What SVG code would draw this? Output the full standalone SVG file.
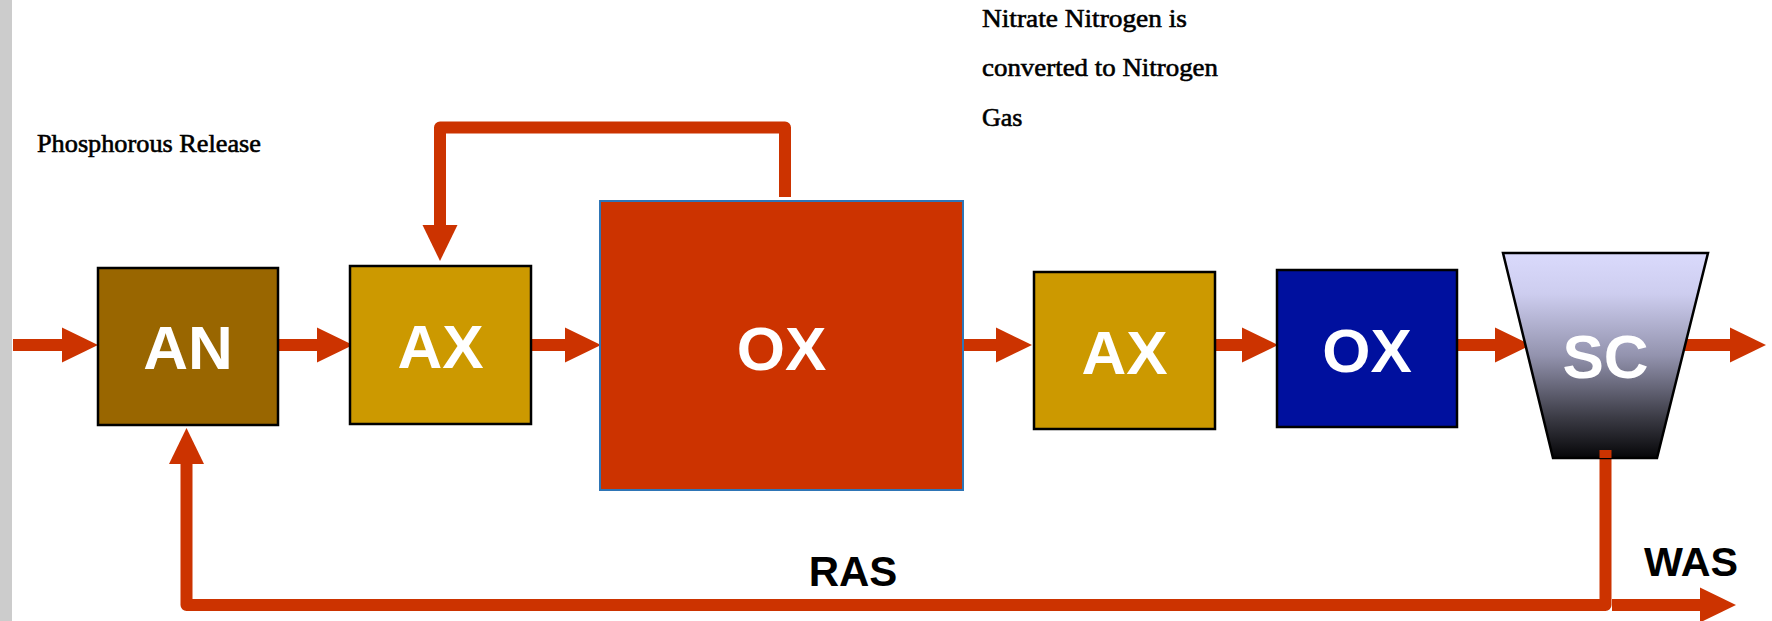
<svg xmlns="http://www.w3.org/2000/svg" width="1772" height="621" viewBox="0 0 1772 621">
<style>
.box{stroke:#000;stroke-width:2.5}
.lbl{font-family:"Liberation Sans",Arial,sans-serif;font-weight:bold;font-size:62px;fill:#fff;text-anchor:middle}
.note{font-family:"Liberation Serif","Times New Roman",serif;font-size:26px;fill:#000;stroke:#000;stroke-width:0.6}
.flow{fill:none;stroke:#cc3300;stroke-width:12;stroke-linejoin:round}
.tag{font-family:"Liberation Sans",Arial,sans-serif;font-weight:bold;fill:#000}
</style>
<defs>
<marker id="ah" markerUnits="userSpaceOnUse" markerWidth="36" markerHeight="36" refX="0" refY="17.5" orient="auto" viewBox="0 0 36 35">
<path d="M0,0 L36,17.5 L0,35 Z" fill="#cc3300"/>
</marker>
<linearGradient id="scg" x1="0" y1="0" x2="0" y2="1">
<stop offset="0" stop-color="#dadafc"/>
<stop offset="0.2" stop-color="#cdcdef"/>
<stop offset="0.5" stop-color="#9393ae"/>
<stop offset="0.8" stop-color="#3c3c46"/>
<stop offset="1" stop-color="#060608"/>
</linearGradient>
</defs>
<rect x="0" y="0" width="12" height="621" fill="#cccccc"/>
<text class="note" x="37" y="152" textLength="224" lengthAdjust="spacingAndGlyphs">Phosphorous Release</text>
<g class="note">
<text x="982" y="27" textLength="205" lengthAdjust="spacingAndGlyphs">Nitrate Nitrogen is</text>
<text x="982" y="76" textLength="236" lengthAdjust="spacingAndGlyphs">converted to Nitrogen</text>
<text x="982" y="126">Gas</text>
</g>
<g id="connectors">
<line class="flow" x1="13" y1="345" x2="62" y2="345" marker-end="url(#ah)"/>
<line class="flow" x1="277" y1="345" x2="317" y2="345" marker-end="url(#ah)"/>
<line class="flow" x1="531" y1="345" x2="565" y2="345" marker-end="url(#ah)"/>
<line class="flow" x1="963" y1="345" x2="996" y2="345" marker-end="url(#ah)"/>
<line class="flow" x1="1215" y1="345" x2="1242" y2="345" marker-end="url(#ah)"/>
<line class="flow" x1="1457" y1="345" x2="1495" y2="345" marker-end="url(#ah)"/>
<line class="flow" x1="1685" y1="345" x2="1730" y2="345" marker-end="url(#ah)"/>
<path class="flow" d="M785,197 V127.5 H440 V225" marker-end="url(#ah)"/>
<path class="flow" d="M1605.5,450 V605 H186.5 V464" marker-end="url(#ah)"/>
<line class="flow" x1="1612" y1="605" x2="1700" y2="605" marker-end="url(#ah)"/>
</g>
<g id="AN"><rect class="box" x="98" y="268" width="180" height="157" fill="#996600"/><text class="lbl" x="188" y="369">AN</text></g>
<g id="AX1"><rect class="box" x="350" y="266" width="181" height="158" fill="#cc9900"/><text class="lbl" x="440.5" y="368">AX</text></g>
<g id="OX1"><rect x="600" y="201" width="363" height="289" fill="#cc3300" stroke="#2e75b6" stroke-width="2"/><text class="lbl" x="781.5" y="370">OX</text></g>
<g id="AX2"><rect class="box" x="1034" y="272" width="181" height="157" fill="#cc9900"/><text class="lbl" x="1124.5" y="374">AX</text></g>
<g id="OX2"><rect class="box" x="1277" y="270" width="180" height="157" fill="#00109e"/><text class="lbl" x="1367" y="372">OX</text></g>
<g id="SC"><path d="M1503,253 H1708 L1657,458 H1553 Z" fill="url(#scg)" stroke="#000" stroke-width="2.5"/><path class="flow" d="M1605.5,450 V458"/><text class="lbl" x="1605.5" y="378">SC</text></g>
<text class="tag" x="853" y="586" font-size="42" text-anchor="middle">RAS</text>
<text class="tag" x="1644" y="576" font-size="40" textLength="94" lengthAdjust="spacingAndGlyphs">WAS</text>
</svg>
